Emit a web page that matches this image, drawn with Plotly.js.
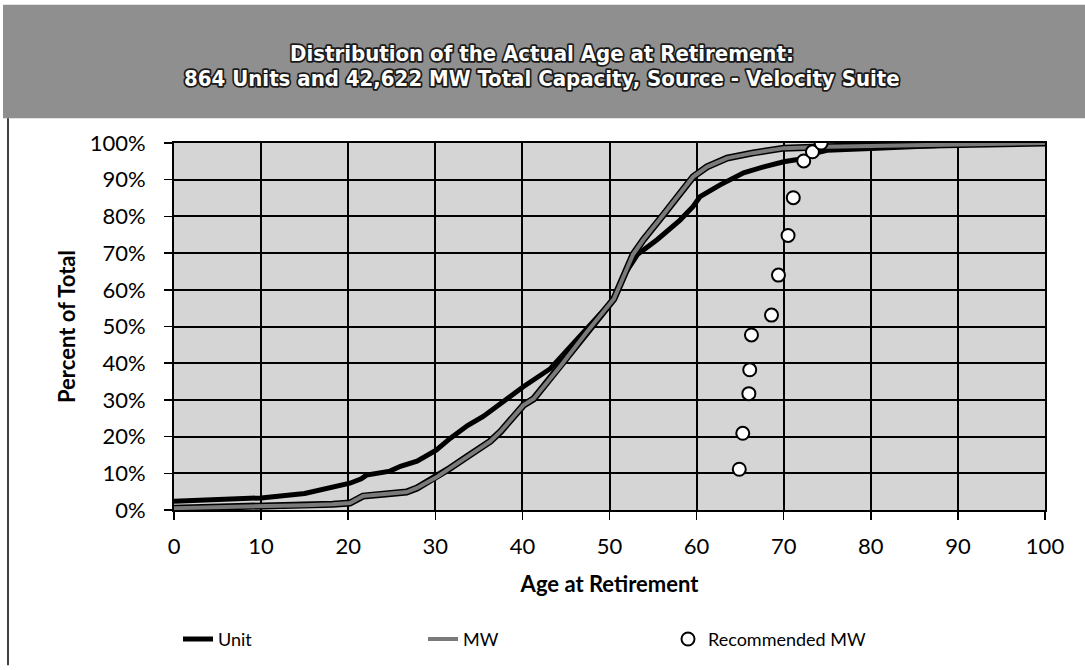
<!DOCTYPE html>
<html><head><meta charset="utf-8">
<script src="https://cdn.plot.ly/plotly-3.0.1.min.js"></script>
<style>
html,body{margin:0;padding:0;background:#fff;}
#chart{width:1085px;height:670px;}
.annotation[data-index="0"] text, .annotation[data-index="1"] text{paint-order:stroke;stroke:#1a1a1a;stroke-width:3.5px;stroke-linejoin:round;}
</style></head><body><div id="chart"></div>
<script>
// Unit cumulative distribution
const unitAge = [0, 5, 10, 15, 18.5, 20.2, 21.5, 22.1, 24.8, 26, 27.9, 30.1, 31.7, 33.7, 35.5, 38.3, 40.1, 43.2, 47, 50.5, 51.6, 53.2, 55.5, 58.1, 59.6, 60.4, 62.7, 65.4, 67.7, 70, 71.6, 72.5, 74, 75, 80, 90, 100];
const unitPct = [2.4, 2.9, 3.3, 4.5, 6.2, 7.3, 8.5, 9.5, 10.6, 11.9, 13.3, 16.3, 19.5, 23, 25.5, 30.4, 33.6, 38.5, 48.5, 57.5, 63.7, 69.6, 73.7, 79, 82.7, 85.4, 88.6, 91.9, 93.5, 94.9, 95.5, 96, 97.5, 98, 98.5, 99.5, 100];
// MW cumulative distribution
const mwAge = [0, 5, 10, 15, 18.2, 20.2, 21.7, 24, 26.7, 27.9, 30.1, 31.7, 33.7, 36.3, 37.5, 38.6, 40.1, 41.3, 44.4, 47.4, 50.5, 52.7, 53.9, 56.2, 58.1, 59.6, 61.2, 63.5, 66.5, 70, 75, 90, 100];
const mwPct = [0.5, 0.7, 1.0, 1.3, 1.6, 1.9, 3.8, 4.3, 4.9, 6.0, 8.9, 11.4, 14.6, 18.7, 21.4, 24.4, 28.5, 30.3, 39.3, 48.5, 57.5, 69.6, 73.7, 80.5, 86.4, 90.8, 93.5, 95.9, 97.3, 98.6, 99, 99.5, 100];
// Recommended MW points
const recAge = [64.9, 65.3, 66.0, 66.1, 66.3, 68.6, 69.4, 70.5, 71.1, 72.3, 73.3, 74.3];
const recPct = [11.1, 20.9, 31.7, 38.2, 47.7, 53.1, 64, 74.8, 85.1, 95.1, 97.6, 100];
const xTicks = [0, 10, 20, 30, 40, 50, 60, 70, 80, 90, 100];
const yTicks = [0, 10, 20, 30, 40, 50, 60, 70, 80, 90, 100];
const yTickLabels = ['0%', '10%', '20%', '30%', '40%', '50%', '60%', '70%', '80%', '90%', '100%'];
const titleLines = ["Distribution of the Actual Age at Retirement:", "864 Units and 42,622 MW Total Capacity, Source - Velocity Suite"];

const F = 'Lato, "Open Sans", sans-serif';
const TF = '"DejaVu Sans Condensed", "Liberation Sans Narrow", sans-serif';
const traces = [
  {x: unitAge, y: unitPct, type: 'scatter', mode: 'lines', name: 'Unit', legendrank: 1,
   line: {color: '#000', width: 5}, hoverinfo: 'skip'},
  {x: mwAge, y: mwPct, type: 'scatter', mode: 'lines', name: 'MW outline', showlegend: false,
   line: {color: '#000', width: 7}, hoverinfo: 'skip'},
  {x: mwAge, y: mwPct, type: 'scatter', mode: 'lines', name: 'MW', legendrank: 2,
   line: {color: '#7a7a7a', width: 4}, hoverinfo: 'skip'},
  {x: recAge, y: recPct, type: 'scatter', mode: 'markers', name: 'Recommended MW', legendrank: 3,
   marker: {symbol: 'circle', size: 13, color: '#fff', line: {color: '#000', width: 2}}, hoverinfo: 'skip'}
];
const W = 871, H = 369;
const px = p => (p - 174) / W;
const py = p => (512 - p) / H;
const layout = {
  width: 1085, height: 670,
  margin: {l: 174, r: 40, t: 143, b: 158},
  paper_bgcolor: '#fff', plot_bgcolor: '#d5d5d5',
  showlegend: true,
  legend: {orientation: 'h', x: px(178), xanchor: 'left', y: py(642), yanchor: 'middle',
           entrywidth: 200, entrywidthmode: 'pixels', traceorder: 'normal',
           font: {family: F, size: 18, color: '#000'}, bgcolor: 'rgba(0,0,0,0)'},
  xaxis: {range: [0, 100], tickvals: xTicks, showgrid: true, gridcolor: '#000', gridwidth: 2,
          showline: true, linecolor: '#000', linewidth: 2, mirror: true, zeroline: false,
          ticks: 'outside', ticklen: 8, tickcolor: '#000', tickwidth: 1.5, ticklabelstandoff: 8,
          tickfont: {family: F, size: 22, color: '#000'},
          title: {text: 'Age at Retirement', font: {family: F, size: 22, color: '#000', weight: 700}, standoff: 18}},
  yaxis: {range: [0, 100], tickvals: yTicks, ticktext: yTickLabels, showgrid: true, gridcolor: '#000', gridwidth: 2,
          showline: true, linecolor: '#000', linewidth: 2, mirror: true, zeroline: false,
          ticks: 'outside', ticklen: 8, tickcolor: '#000', tickwidth: 1.5, ticklabelstandoff: 14,
          tickfont: {family: F, size: 22, color: '#000'},
          title: {text: 'Percent of Total', font: {family: F, size: 22, color: '#000', weight: 700}, standoff: 8}},
  shapes: [
    {type: 'rect', xref: 'paper', yref: 'paper', x0: px(3), x1: px(1085), y0: py(118), y1: py(4),
     fillcolor: '#8f8f8f', line: {width: 0}, layer: 'below'},
    {type: 'line', xref: 'paper', yref: 'paper', x0: px(8), x1: px(8), y0: py(118), y1: py(668),
     line: {color: '#000', width: 1.5}}
  ],
  annotations: [
    {text: titleLines[0], xref: 'paper', yref: 'paper', x: px(542), y: py(53), xanchor: 'center', yanchor: 'middle',
     showarrow: false, font: {family: TF, size: 22, color: '#fff', weight: 700}},
    {text: titleLines[1], xref: 'paper', yref: 'paper', x: px(542), y: py(78), xanchor: 'center', yanchor: 'middle',
     showarrow: false, font: {family: TF, size: 22, color: '#fff', weight: 700}}
  ]
};
Plotly.newPlot('chart', traces, layout, {displayModeBar: false, staticPlot: true});
</script></body></html>
